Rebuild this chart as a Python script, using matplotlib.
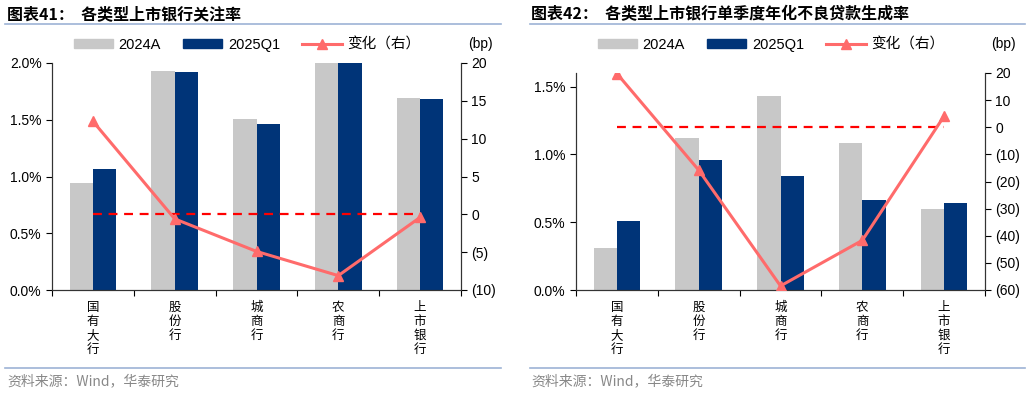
import matplotlib.pyplot as plt
import matplotlib.lines as mlines
import matplotlib.patches as mpatches
from matplotlib.ticker import FuncFormatter
import numpy as np

plt.rcParams['font.family'] = ['Liberation Sans', 'Noto Sans CJK SC']

categories = ['国有大行', '股份行', '城商行', '农商行', '上市银行']

# chart 41: attention rate (%), change in bp
att_2024a = [0.943, 1.927, 1.509, 2.00, 1.689]
att_2025q1 = [1.066, 1.921, 1.460, 2.00, 1.686]
att_change = [12.3, -0.6, -4.9, -8.1, -0.4]

# chart 42: quarterly annualized NPL generation rate (%), change in bp
npl_2024a = [0.311, 1.119, 1.427, 1.081, 0.598]
npl_2025q1 = [0.509, 0.961, 0.842, 0.664, 0.639]
npl_change = [19.8, -15.8, -58.5, -41.7, 4.1]

GRAY = '#C8C8C8'
NAVY = '#003478'
LINE = '#FF6B6B'
RULE = '#9DB3D5'
W, H = 1030, 393

fig = plt.figure(figsize=(W / 100, H / 100), dpi=100)


def px_axes(x0, y0, x1, y1):
    return fig.add_axes([x0 / W, 1 - y1 / H, (x1 - x0) / W, (y1 - y0) / H])


def paren(v, pos):
    v = int(round(v))
    return '(%d)' % -v if v < 0 else '%d' % v


def draw_panel(box, title, tx, rule, v24, v25, chg, ylim, yticks, y2lim, y2ticks, leg_x, bp_x):
    ax = px_axes(*box)
    x = np.arange(len(categories))
    bw = 0.285
    ax.bar(x - bw, v24, bw, align='edge', color=GRAY, zorder=2)
    ax.bar(x, v25, bw, align='edge', color=NAVY, zorder=2)
    ax.set_xlim(-0.5, len(categories) - 0.5)
    ax.set_ylim(*ylim)
    ax.set_yticks(yticks)
    ax.yaxis.set_major_formatter(FuncFormatter(lambda v, p: '%.1f%%' % v))
    ax.set_xticks(np.arange(-0.5, len(categories), 1.0))
    ax.set_xticklabels([])
    ax.set_xticks(x, minor=True)
    ax.set_xticklabels(['\n'.join(c) for c in categories], minor=True,
                       fontsize=9, linespacing=1.1, family=['Noto Sans CJK SC'])
    ax.tick_params(axis='x', which='minor', length=0, pad=8)
    ax.tick_params(axis='x', which='major', length=4, direction='out')
    ax.tick_params(axis='y', length=4, labelsize=10)
    ax.spines['top'].set_visible(False)
    for s in ['left', 'bottom', 'right']:
        ax.spines[s].set_color('#333333')

    ax2 = ax.twinx()
    ax2.plot(x, [0] * len(x), '--', color='#FF0000', lw=1.6, dashes=(4, 3), zorder=3)
    ax2.plot(x, chg, color=LINE, lw=2.2, marker='^', ms=7, zorder=4)
    ax2.set_ylim(*y2lim)
    ax2.set_yticks(y2ticks)
    ax2.yaxis.set_major_formatter(FuncFormatter(paren))
    ax2.tick_params(axis='y', length=4, labelsize=10)
    ax2.spines['top'].set_visible(False)
    for s in ['left', 'bottom', 'right']:
        ax2.spines[s].set_color('#333333')

    handles = [mpatches.Patch(color=GRAY, label='2024A'),
               mpatches.Patch(color=NAVY, label='2025Q1'),
               mlines.Line2D([], [], color=LINE, lw=2.2, marker='^', ms=7, label='变化（右）')]
    fig.legend(handles=handles, loc='center', bbox_to_anchor=(leg_x / W, 1 - 45 / H),
               ncol=3, frameon=False, fontsize=10.5, handlelength=2.7, handleheight=0.55,
               columnspacing=1.5, handletextpad=0.4)
    fig.text(bp_x / W, 1 - 44 / H, '(bp)', ha='center', va='center', fontsize=10)

    fig.text(tx / W, 1 - 14 / H, title, ha='left', va='center', fontsize=11.5,
             fontweight='bold', family=['Noto Sans CJK SC'])
    fig.add_artist(mlines.Line2D([rule[0] / W, rule[1] / W], [1 - 24 / H] * 2, color=RULE, lw=1.2))
    fig.add_artist(mlines.Line2D([rule[0] / W, rule[1] / W], [1 - 368 / H] * 2, color=RULE, lw=1.2))
    fig.text(tx / W, 1 - 381 / H, '资料来源：Wind，华泰研究', ha='left', va='center',
             fontsize=10, color='#888888', family=['Noto Sans CJK SC'])


draw_panel((52, 63, 461, 290), '图表41：  各类型上市银行关注率', 7, (5, 501),
           att_2024a, att_2025q1, att_change,
           (0, 2.0), [0, 0.5, 1.0, 1.5, 2.0], (-10, 20), [-10, -5, 0, 5, 10, 15, 20],
           247, 480)
draw_panel((576, 73, 985, 290), '图表42：  各类型上市银行单季度年化不良贷款生成率', 531, (530, 1025),
           npl_2024a, npl_2025q1, npl_change,
           (0, 1.6), [0, 0.5, 1.0, 1.5], (-60, 20), [-60, -50, -40, -30, -20, -10, 0, 10, 20],
           771, 1003)

fig.savefig('out.png', dpi=100)
